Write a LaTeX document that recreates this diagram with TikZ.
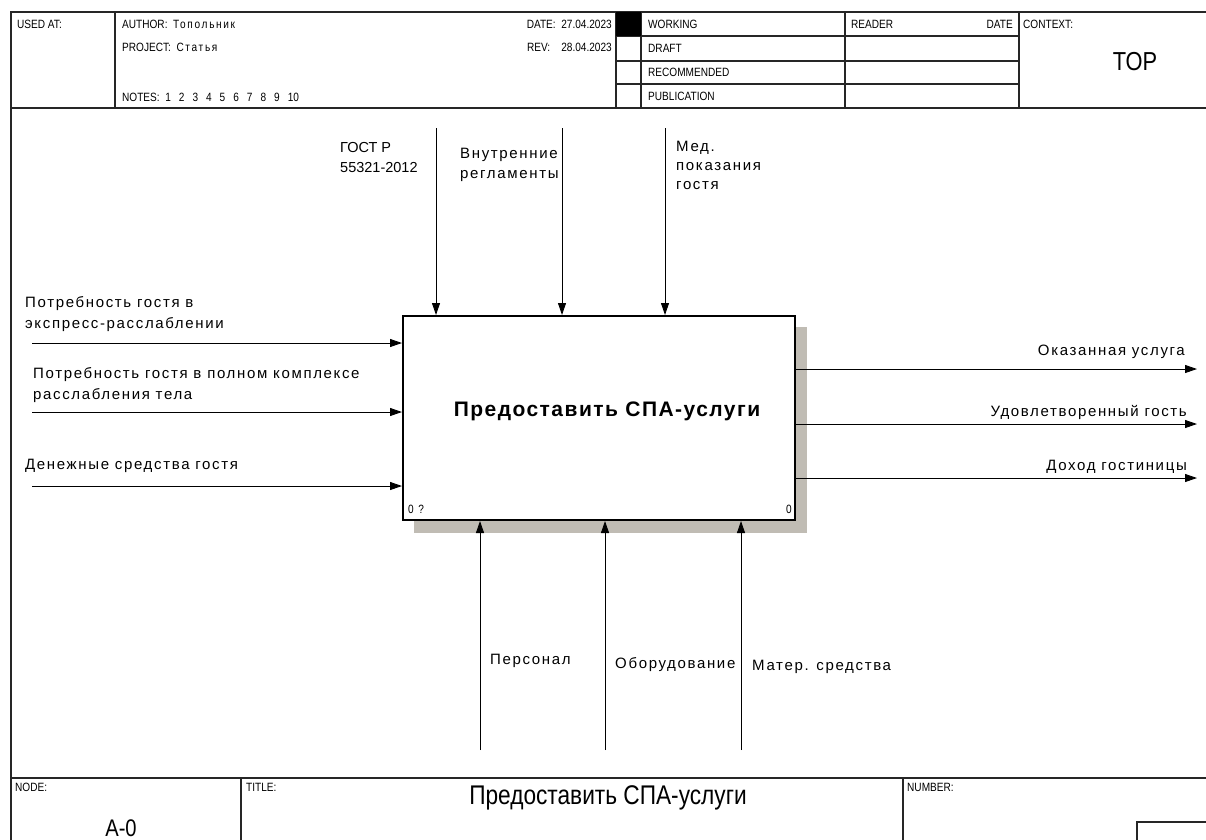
\documentclass[tikz,border=0pt]{standalone}
\usepackage{fontspec}
\setmainfont{Liberation Sans}
\newfontfamily\narrowfont[FakeStretch=0.84]{Liberation Sans}
\newfontfamily\narrowspaced[FakeStretch=0.84,LetterSpace=14]{Liberation Sans}
\newfontfamily\spacedfont[LetterSpace=11]{Liberation Sans}
\newfontfamily\boldspaced[LetterSpace=7]{Liberation Sans}
\usetikzlibrary{arrows.meta,positioning}
\definecolor{shadowgray}{RGB}{192,188,180}

\begin{document}
\begin{tikzpicture}[x=1pt, y=-1pt,
  frame/.style={line width=1.1pt, draw=black!85},
  hdr/.style={font=\narrowfont\fontsize{12}{14}\selectfont, inner sep=0pt, anchor=west},
  lbl/.style={font=\spacedfont\fontsize{15}{21}\selectfont, align=left, inner sep=0pt},
  arrow/.style={-{Triangle[length=12pt,width=8pt]}, line width=0.9pt},
  func/.style={rectangle, draw, line width=2pt, fill=white, minimum width=392pt, minimum height=204pt, inner sep=0pt}
]
\useasboundingbox (0,0) rectangle (1206,839);
\clip (0,0) rectangle (1206,839);

% Frame
\draw[frame] (1230,12) -- (11,12) -- (11,860);
\draw[frame] (11,108) -- (1230,108);
\draw[frame] (11,778) -- (1230,778);
\foreach \x in {115,616,641,845,1019} \draw[frame] (\x,12) -- (\x,108);
\foreach \y in {36,61,84} \draw[frame] (616,\y) -- (1019,\y);
\fill (616,12) rectangle (641,36);
\foreach \x in {241,903} \draw[frame] (\x,778) -- (\x,860);
\draw[frame] (1137,822) rectangle (1240,860);

% Header
\node[hdr] (usedat) at (17,24) {USED AT:};
\node[hdr] (author) at (122,24) {AUTHOR:\ \ {\narrowspaced Топольник}};
\node[hdr] (project) at (122,47) {PROJECT:\ \ {\narrowspaced Статья}};
\node[hdr] (notes) at (122,97) {NOTES:\ \ 1\hspace{8pt}2\hspace{8pt}3\hspace{8pt}4\hspace{8pt}5\hspace{8pt}6\hspace{8pt}7\hspace{8pt}8\hspace{8pt}9\hspace{8pt}10};
\node[hdr, anchor=east] (date) at (612,24) {DATE:\ \ 27.04.2023};
\node[hdr, anchor=east] (rev) at (612,47) {REV:\ \ \ \ 28.04.2023};
\node[hdr] (working) at (648,24) {WORKING};
\node[hdr] (draft) at (648,48) {DRAFT};
\node[hdr] (recommended) at (648,72) {RECOMMENDED};
\node[hdr] (publication) at (648,96) {PUBLICATION};
\node[hdr] (reader) at (851,24) {READER};
\node[hdr, anchor=east] (readerdate) at (1013,24) {DATE};
\node[hdr] (context) at (1023,24) {CONTEXT:};
\node[font=\narrowfont\fontsize{26}{28}\selectfont] (top) at (1135,62) {TOP};

% Function box
\fill[shadowgray] (414,327) rectangle (807,533);
\node[func] (spa) at (599,418) {};
\node[font=\boldspaced\bfseries\fontsize{21}{24}\selectfont] (spaname) at (607,411) {Предоставить СПА-услуги};
\node[hdr, font=\narrowspaced\fontsize{12}{14}\selectfont] (boxnum) at (408,509) {0 ?};
\node[hdr, anchor=east, font=\narrowfont\fontsize{12}{14}\selectfont] (boxcost) at (792,509) {0};

% Labels
\node[lbl, anchor=north west] (in1) at (25,296) {Потребность гостя в\\экспресс-расслаблении};
\node[lbl, anchor=north west] (in2) at (33,367) {Потребность гостя в полном комплексе\\расслабления тела};
\node[lbl, anchor=north west] (in3) at (25,459) {Денежные средства гостя};
\node[lbl, anchor=north west, font=\fontsize{14.5}{20}\selectfont] (ctl1) at (340,142) {ГОСТ Р\\55321-2012};
\node[lbl, anchor=north west, font=\spacedfont\fontsize{15}{20}\selectfont] (ctl2) at (460,148) {Внутренние\\регламенты};
\node[lbl, anchor=north west, font=\spacedfont\fontsize{15}{19}\selectfont] (ctl3) at (676,141) {Мед.\\показания\\гостя};
\node[lbl, anchor=north east] (out1) at (1185,345) {Оказанная услуга};
\node[lbl, anchor=north east] (out2) at (1187,405) {Удовлетворенный гость};
\node[lbl, anchor=north east] (out3) at (1187,460) {Доход гостиницы};
\node[lbl, anchor=north west] (mec1) at (490,654) {Персонал};
\node[lbl, anchor=north west] (mec2) at (615,657) {Оборудование};
\node[lbl, anchor=north west] (mec3) at (752,660) {Матер. средства};

% Footer
\node[hdr] (nodelbl) at (15,787) {NODE:};
\node[font=\narrowfont\fontsize{24}{26}\selectfont] (nodenum) at (121,828) {A-0};
\node[hdr] (titlelbl) at (246,787) {TITLE:};
\node[font=\narrowfont\fontsize{27}{29}\selectfont] (title) at (608,798) {Предоставить СПА-услуги};
\node[hdr] (numberlbl) at (907,787) {NUMBER:};

% Arrows
\coordinate (i1) at (32,343);
\coordinate (i2) at (32,412);
\coordinate (i3) at (32,486);
\coordinate (c1) at (436,128);
\coordinate (c2) at (562,128);
\coordinate (c3) at (665,128);
\coordinate (o1) at (1197,369);
\coordinate (o2) at (1197,424);
\coordinate (o3) at (1197,478);
\coordinate (m1) at (480,750);
\coordinate (m2) at (605,750);
\coordinate (m3) at (741,750);
\foreach \n in {1,2,3} {
  \draw[arrow] (i\n) -- (i\n -| spa.west);
  \draw[arrow] (c\n) -- (c\n |- spa.north);
  \draw[arrow] (o\n -| spa.east) -- (o\n);
  \draw[arrow] (m\n) -- (m\n |- spa.south);
}

\end{tikzpicture}
\end{document}
